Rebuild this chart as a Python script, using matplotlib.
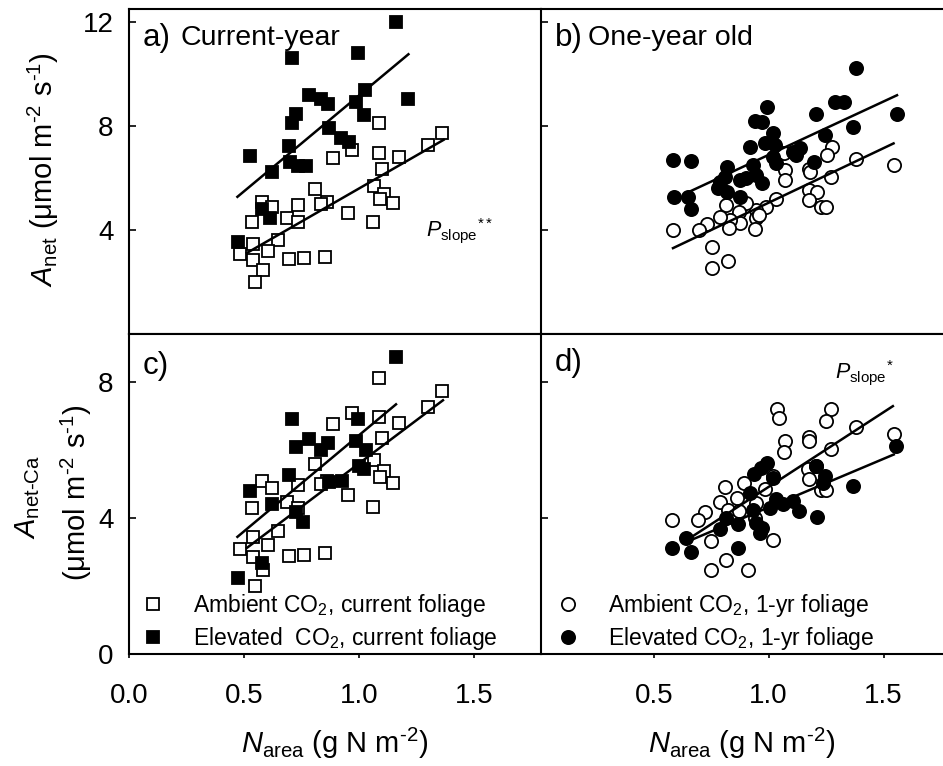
import matplotlib
matplotlib.use('Agg')
import matplotlib.pyplot as plt
from matplotlib.lines import Line2D
import numpy as np

plt.rcParams['font.family'] = ['Liberation Sans', 'DejaVu Sans']
plt.rcParams['mathtext.fontset'] = 'custom'
plt.rcParams['mathtext.rm'] = 'Liberation Sans'
plt.rcParams['mathtext.it'] = 'Liberation Sans:italic'
plt.rcParams['mathtext.bf'] = 'Liberation Sans:bold'

# ---- data ----
# current-year foliage, ambient CO2 (same values in panels a and c)
cur_amb_n = [1.088, 1.36, 1.297, 0.968, 1.088, 0.888, 1.174, 1.10, 0.809, 1.065, 1.106,
             1.092, 1.149, 0.862, 0.834, 0.58, 0.623, 0.733, 0.953, 0.686, 0.533, 0.733,
             1.06, 0.649, 0.54, 0.606, 0.483, 0.538, 0.581, 0.548, 0.697, 0.762, 0.852]
cur_amb_a = [8.10, 7.72, 7.27, 7.08, 6.97, 6.76, 6.79, 6.35, 5.58, 5.70, 5.38,
             5.19, 5.03, 5.07, 5.00, 5.09, 4.87, 4.97, 4.67, 4.47, 4.29, 4.29,
             4.32, 3.62, 3.45, 3.19, 3.07, 2.85, 2.46, 2.01, 2.88, 2.91, 2.97]

# panel a: current-year, elevated CO2 (A_net)
a_elev_n = [1.16, 0.997, 0.71, 0.78, 0.834, 0.865, 1.214, 1.026, 0.987, 1.019, 0.724, 0.71,
            0.87, 0.92, 0.954, 0.695, 0.526, 0.70, 0.736, 0.768, 0.62, 0.577, 0.613, 0.475]
a_elev_a = [12.0, 10.8, 10.6, 9.19, 9.03, 8.83, 9.03, 9.38, 8.94, 8.42, 8.45, 8.10,
            7.91, 7.53, 7.40, 7.24, 6.85, 6.63, 6.47, 6.47, 6.24, 4.80, 4.45, 3.55]

# panel c: current-year, elevated CO2 (A_net-Ca)
c_elev_n = [1.16, 0.71, 0.997, 0.78, 0.724, 0.865, 0.834, 0.987, 1.03, 1.0,
            1.02, 0.695, 0.87, 0.925, 0.526, 0.62, 0.726, 0.758, 0.577, 0.473]
c_elev_a = [8.71, 6.91, 6.89, 6.32, 6.08, 6.19, 5.99, 6.25, 5.99, 5.52,
            5.42, 5.27, 5.05, 5.07, 4.78, 4.42, 4.17, 3.87, 2.68, 2.24]

# panel b: one-year old foliage
b_elev_n = [1.381, 1.287, 1.326, 1.558, 1.204, 1.367, 1.243, 0.993, 0.939, 0.972, 1.019, 0.983,
            0.920, 1.026, 1.106, 1.138, 1.12, 1.019, 1.033, 1.197, 0.584, 0.664, 0.819, 0.932,
            0.903, 0.874, 0.946, 0.972, 0.809, 0.787, 0.78, 0.819, 0.874, 0.587, 0.649, 0.664]
b_elev_a = [10.22, 8.94, 8.94, 8.46, 8.45, 7.97, 7.65, 8.74, 8.19, 8.17, 7.72, 7.33,
            7.20, 7.26, 7.01, 7.14, 6.88, 6.82, 6.56, 6.60, 6.69, 6.67, 6.44, 6.51,
            5.99, 5.92, 6.13, 5.80, 6.05, 5.86, 5.60, 5.47, 5.28, 5.28, 5.28, 4.81]
b_amb_n = [1.277, 1.254, 1.381, 1.543, 1.067, 1.069, 1.07, 1.175, 1.178, 1.273, 1.175, 1.21,
           1.175, 1.229, 1.248, 1.03, 0.987, 0.943, 0.946, 0.96, 0.903, 0.816, 0.871, 0.874,
           0.83, 0.787, 0.828, 0.939, 0.732, 0.697, 0.584, 0.755, 0.823, 0.755]
b_amb_a = [7.20, 6.88, 6.72, 6.5, 6.95, 6.31, 5.92, 6.36, 6.23, 6.03, 5.54, 5.47,
           5.15, 4.90, 4.87, 5.18, 4.90, 4.77, 4.45, 4.58, 5.03, 4.97, 4.71, 4.26,
           4.38, 4.49, 4.06, 4.02, 4.23, 4.0, 4.0, 3.36, 2.82, 2.53]

# panel d: one-year old foliage (A_net-Ca)
d_amb_n = [1.036, 1.043, 1.273, 1.251, 1.381, 1.543, 1.07, 1.067, 1.175, 1.175, 1.273, 1.17,
           1.207, 1.175, 1.226, 1.248, 1.019, 0.983, 0.891, 0.812, 0.862, 0.787, 0.946, 0.823,
           0.871, 0.939, 0.725, 0.693, 0.58, 0.751, 1.019, 0.816, 0.751, 0.91]
d_amb_a = [7.19, 6.94, 7.19, 6.84, 6.68, 6.47, 6.25, 5.93, 6.38, 6.25, 6.01, 5.44,
           5.52, 5.13, 4.83, 4.81, 5.22, 4.85, 5.03, 4.91, 4.59, 4.46, 4.44, 4.24,
           4.20, 4.0, 4.18, 3.95, 3.95, 3.33, 3.36, 2.77, 2.48, 2.48]
d_elev_n = [1.555, 1.367, 1.204, 1.243, 1.236, 1.21, 1.132, 1.106, 1.062, 1.033, 1.007, 1.019,
            0.993, 0.968, 0.935, 0.917, 0.932, 0.946, 0.972, 0.964, 0.867, 0.816, 0.787, 0.867,
            0.642, 0.581, 0.664]
d_elev_a = [6.11, 4.93, 5.52, 5.22, 5.03, 4.03, 4.19, 4.49, 4.40, 4.54, 4.29, 5.18,
            5.62, 5.47, 5.30, 4.74, 4.24, 3.85, 3.70, 3.56, 3.83, 4.0, 3.66, 3.12,
            3.41, 3.12, 2.99]

# regression lines: slope, intercept, x start, x end
fit_a_amb = [5.09, 0.51, 0.512, 1.367]
fit_a_elev = [7.38, 1.80, 0.471, 1.214]
fit_b_amb = [4.20, 0.85, 0.584, 1.543]
fit_b_elev = [4.11, 2.78, 0.654, 1.558]
fit_c_amb = [5.09, 0.51, 0.512, 1.364]
fit_c_elev = [5.65, 0.78, 0.471, 1.16]
fit_d_amb = [4.39, 0.52, 0.642, 1.540]
fit_d_elev = [2.85, 1.46, 0.642, 1.544]


def draw_fit(ax, fit):
    slope, icpt, x0, x1 = fit
    xs = np.array([x0, x1])
    ax.plot(xs, icpt + slope * xs, color='black', lw=1.8, zorder=4)


def style_axis(ax, ylim, yticks, xlim, xticks, ylabels, xlabels):
    ax.set_xlim(*xlim)
    ax.set_ylim(*ylim)
    ax.set_yticks(yticks)
    ax.set_xticks(xticks)
    for s in ax.spines.values():
        s.set_linewidth(1.5)
    ax.spines['right'].set_visible(False)
    ax.tick_params(axis='y', direction='in', length=5, width=1.2, pad=11,
                   labelsize=20, labelleft=ylabels)
    ax.tick_params(axis='x', direction='out', length=3, width=1.2, pad=18,
                   labelsize=20, labelbottom=xlabels)
    if not xlabels:
        ax.tick_params(axis='x', length=0)


fig = plt.figure(figsize=(9.43, 7.66), dpi=100)
W, H = 943.0, 766.0
ax_a = fig.add_axes([129 / W, 1 - 334 / H, 412 / W, 325 / H])
ax_b = fig.add_axes([541 / W, 1 - 334 / H, 402 / W, 325 / H])
ax_c = fig.add_axes([129 / W, 1 - 654 / H, 412 / W, 320 / H])
ax_d = fig.add_axes([541 / W, 1 - 654 / H, 402 / W, 320 / H])

sq = dict(marker='s', ms=8.7, mew=1.3, mec='black', ls='none')
ci = dict(marker='o', ms=9.5, mew=1.3, mec='black', ls='none')

# panel a
ax_a.plot(cur_amb_n, cur_amb_a, mfc='white', zorder=2, **sq)
ax_a.plot(a_elev_n, a_elev_a, mfc='black', zorder=3, **sq)
draw_fit(ax_a, fit_a_amb)
draw_fit(ax_a, fit_a_elev)

# panel b
ax_b.plot(b_amb_n, b_amb_a, mfc='white', zorder=2, **ci)
ax_b.plot(b_elev_n, b_elev_a, mfc='black', zorder=3, **ci)
draw_fit(ax_b, fit_b_amb)
draw_fit(ax_b, fit_b_elev)

# panel c
ax_c.plot(cur_amb_n, cur_amb_a, mfc='white', zorder=2, **sq)
ax_c.plot(c_elev_n, c_elev_a, mfc='black', zorder=3, **sq)
draw_fit(ax_c, fit_c_amb)
draw_fit(ax_c, fit_c_elev)

# panel d
ax_d.plot(d_amb_n, d_amb_a, mfc='white', zorder=2, **ci)
ax_d.plot(d_elev_n, d_elev_a, mfc='black', zorder=3, **ci)
draw_fit(ax_d, fit_d_amb)
draw_fit(ax_d, fit_d_elev)

style_axis(ax_a, (0, 12.5), [4, 8, 12], (0, 1.79), [0, 0.5, 1.0, 1.5], True, False)
style_axis(ax_b, (0, 12.5), [4, 8, 12], (0.01, 1.758), [0.5, 1.0, 1.5], False, False)
style_axis(ax_c, (0, 9.4), [0, 4, 8], (0, 1.79), [0, 0.5, 1.0, 1.5], True, True)
style_axis(ax_d, (0, 9.4), [4, 8], (0.01, 1.758), [0.5, 1.0, 1.5], False, True)
ax_c.set_xticklabels(['0.0', '0.5', '1.0', '1.5'])
ax_d.set_xticklabels(['0.5', '1.0', '1.5'])

# panel titles
ax_a.text(0.034, 0.91, 'a)', transform=ax_a.transAxes, fontsize=22.5, va='center')
ax_a.text(0.124, 0.91, 'Current-year', transform=ax_a.transAxes, fontsize=20.5, va='center')
ax_b.text(0.035, 0.91, 'b)', transform=ax_b.transAxes, fontsize=22.5, va='center')
ax_b.text(0.117, 0.91, 'One-year old', transform=ax_b.transAxes, fontsize=20.5, va='center')
ax_c.text(0.034, 0.90, 'c)', transform=ax_c.transAxes, fontsize=22.5, va='center')
ax_d.text(0.035, 0.91, 'd)', transform=ax_d.transAxes, fontsize=22.5, va='center')

# significance notes
ax_a.text(0.721, 0.30, r'$P_{\mathrm{slope}}{}^{**}$', transform=ax_a.transAxes,
          fontsize=15.5, va='baseline')
ax_d.text(0.731, 0.862, r'$P_{\mathrm{slope}}{}^{*}$', transform=ax_d.transAxes,
          fontsize=15.5, va='baseline')

# legends
h_c = [Line2D([], [], mfc='white', **sq), Line2D([], [], mfc='black', **sq)]
ax_c.legend(h_c, [r'Ambient CO$_2$, current foliage', r'Elevated  CO$_2$, current foliage'],
            loc='center left', bbox_to_anchor=(0.030, 0.1), frameon=False, fontsize=16.5,
            handlelength=1.0, handletextpad=1.25, labelspacing=0.3, borderpad=0,
            borderaxespad=0)
h_d = [Line2D([], [], mfc='white', **ci), Line2D([], [], mfc='black', **ci)]
ax_d.legend(h_d, [r'Ambient CO$_2$, 1-yr foliage', r'Elevated CO$_2$, 1-yr foliage'],
            loc='center left', bbox_to_anchor=(0.0386, 0.1), frameon=False, fontsize=16.5,
            handlelength=1.0, handletextpad=1.25, labelspacing=0.3, borderpad=0,
            borderaxespad=0)

# axis labels
fig.text(43 / W, 1 - 170 / H, r'$\mathit{A}_{\mathrm{net}}$ (μmol m$^{\text{-2}}$ s$^{\text{-1}}$)',
         rotation=90, ha='center', va='center', fontsize=21)
fig.text(28 / W, 1 - 497 / H, r'$\mathit{A}_{\text{net-Ca}}$',
         rotation=90, ha='center', va='center', fontsize=21)
fig.text(76 / W, 1 - 493 / H, r'(μmol m$^{\text{-2}}$ s$^{\text{-1}}$)',
         rotation=90, ha='center', va='center', fontsize=21)
xlab = r'$\mathit{N}_{\mathrm{area}}$ (g N m$^{\text{-2}}$)'
fig.text(335 / W, 1 - 753 / H, xlab, ha='center', va='baseline', fontsize=21)
fig.text(742 / W, 1 - 753 / H, xlab, ha='center', va='baseline', fontsize=21)

fig.savefig('out.png', dpi=100)
plt.close(fig)
